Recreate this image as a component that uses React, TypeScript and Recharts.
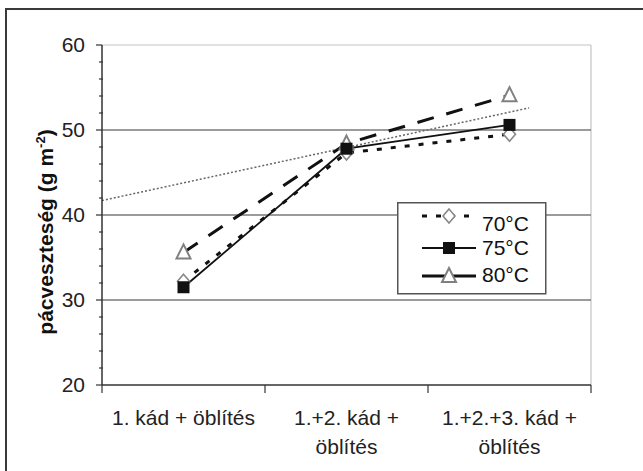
import React from 'react'
import { LineChart, Line, XAxis, YAxis, ReferenceLine, Legend } from 'recharts'

// category labels, already split into lines as on the original axis
const categories = [
  ['1. kád + öblítés'],
  ['1.+2. kád +', 'öblítés'],
  ['1.+2.+3. kád +', 'öblítés'],
]
const categoryX = [0, 1, 2]
const series70 = [32.2, 47.3, 49.5]
const series75 = [31.5, 47.8, 50.6]
const series80 = [35.6, 48.4, 54.1]
// dotted trend line, start and end
const trendX = [-0.5, 2.12]
const trendY = [41.7, 52.6]

const yTicks = [20, 22, 24, 26, 28, 30, 32, 34, 36, 38, 40, 42, 44, 46, 48, 50, 52, 54, 56, 58, 60]
const xTicks = [-0.5, 0, 0.5, 1, 1.5, 2, 2.5]
const gridValues = [30, 40, 50]

const data = categoryX.map((x, i) => ({
  x,
  t70: series70[i],
  t75: series75[i],
  t80: series80[i],
}))
const trendData = trendX.map((x, i) => ({ x, trend: trendY[i] }))

const FONT = '"Liberation Sans", Arial, sans-serif'

const Diamond = ({ cx, cy }: any) => (
  <polygon
    points={`${cx},${cy - 7} ${cx + 6},${cy} ${cx},${cy + 7} ${cx - 6},${cy}`}
    fill="#fff"
    stroke="#888"
    strokeWidth={1.6}
  />
)
const Square = ({ cx, cy }: any) => (
  <rect x={cx - 6} y={cy - 6} width={12} height={12} fill="#111" />
)
const Triangle = ({ cx, cy }: any) => (
  <polygon
    points={`${cx},${cy - 8} ${cx + 7},${cy + 6} ${cx - 7},${cy + 6}`}
    fill="#fff"
    stroke="#808080"
    strokeWidth={2}
  />
)

const YTick = (props: any) => {
  const { x, y, payload } = props
  const major = payload.value % 10 === 0
  return (
    <g>
      <line
        x1={major ? x - 6 : x - 3}
        x2={major ? x : x + 1}
        y1={y}
        y2={y}
        stroke="#333"
        strokeWidth={1.2}
      />
      {major && (
        <text x={x - 17} y={y} dy={7} textAnchor="end" fontSize={21} fill="#222" fontFamily={FONT}>
          {payload.value}
        </text>
      )}
    </g>
  )
}

const XTick = (props: any) => {
  const { x, y, payload } = props
  const v = payload.value
  if (!Number.isInteger(v)) {
    return <line x1={x} x2={x} y1={y} y2={y + 8} stroke="#333" strokeWidth={1.2} />
  }
  const lines = categories[v]
  return (
    <text x={x} y={y} textAnchor="middle" fontSize={21} fill="#222" fontFamily={FONT}>
      {lines.map((l, i) => (
        <tspan key={i} x={x} dy={i === 0 ? 40 : 29}>
          {l}
        </tspan>
      ))}
    </text>
  )
}

const YLabel = () => (
  <text
    x={53}
    y={232}
    transform="rotate(-90, 53, 232)"
    textAnchor="middle"
    fontSize={21}
    fontWeight="bold"
    fill="#111"
    fontFamily={FONT}
  >
    pácveszteség (g m
    <tspan dy={-8} fontSize={13}>
      -2
    </tspan>
    <tspan dy={8}>)</tspan>
  </text>
)

const LegendBox = () => {
  const rows = [
    { label: '70°C', y: 22, sy: 14, dash: '5 9', width: 3, Mark: Diamond },
    { label: '75°C', y: 46, sy: 46, dash: undefined, width: 1.8, Mark: Square },
    { label: '80°C', y: 73, sy: 74, dash: undefined, width: 3, Mark: Triangle },
  ]
  return (
    <svg width={150} height={93} style={{ display: 'block' }}>
      <rect x={0.75} y={0.75} width={148} height={91} fill="#fff" stroke="#555" strokeWidth={1.5} />
      {rows.map((r) => (
        <g key={r.label}>
          <line x1={25} x2={79} y1={r.sy} y2={r.sy} stroke="#111" strokeWidth={r.width} strokeDasharray={r.dash} />
          <r.Mark cx={52} cy={r.sy} />
          <text x={85} y={r.y} dy={7} fontSize={21} fill="#111" fontFamily={FONT}>
            {r.label}
          </text>
        </g>
      ))}
    </svg>
  )
}

export default function App() {
  return (
    <div style={{ position: 'absolute', left: 0, top: 0, width: 643, height: 471, background: '#fff', overflow: 'hidden' }}>
      <div
        style={{
          position: 'absolute',
          left: 5,
          top: 8,
          width: 650,
          height: 480,
          borderTop: '2.5px solid #3a3a3a',
          borderLeft: '2.5px solid #3a3a3a',
        }}
      />
      <div style={{ position: 'absolute', left: 0, top: 0 }}>
        <LineChart width={643} height={471} data={data} margin={{ top: 45, right: 52, left: 42, bottom: 16 }}>
          <XAxis
            type="number"
            dataKey="x"
            domain={[-0.5, 2.5]}
            ticks={xTicks}
            interval={0}
            allowDataOverflow
            tick={<XTick />}
            tickLine={false}
            tickSize={0}
            tickMargin={0}
            height={70}
            axisLine={{ stroke: '#333', strokeWidth: 1.5 }}
          />
          <YAxis
            domain={[20, 60]}
            ticks={yTicks}
            interval={0}
            tick={<YTick />}
            tickLine={false}
            tickSize={0}
            tickMargin={0}
            width={60}
            axisLine={{ stroke: '#333', strokeWidth: 1.5 }}
            label={<YLabel />}
          />
          <ReferenceLine y={60} stroke="#c4c4c4" strokeWidth={1.2} />
          <ReferenceLine x={2.5} stroke="#c4c4c4" strokeWidth={1.2} />
          {gridValues.map((v) => (
            <ReferenceLine key={v} y={v} stroke="#7a7a7a" strokeWidth={1.6} />
          ))}
          <Line
            data={trendData}
            dataKey="trend"
            stroke="#666"
            strokeWidth={1.5}
            strokeDasharray="2 2"
            dot={false}
            activeDot={false}
            isAnimationActive={false}
          />
          <Line
            dataKey="t70"
            stroke="#111"
            strokeWidth={3}
            strokeDasharray="5 9"
            dot={(p: any) => <Diamond key={`d${p.index}`} {...p} />}
            activeDot={false}
            isAnimationActive={false}
          />
          <Line
            dataKey="t80"
            stroke="#111"
            strokeWidth={3}
            strokeDasharray="17 13"
            dot={(p: any) => <Triangle key={`t${p.index}`} {...p} />}
            activeDot={false}
            isAnimationActive={false}
          />
          <Line
            dataKey="t75"
            stroke="#111"
            strokeWidth={1.8}
            dot={(p: any) => <Square key={`s${p.index}`} {...p} />}
            activeDot={false}
            isAnimationActive={false}
          />
          <Legend
            layout="vertical"
            align="center"
            verticalAlign="middle"
            content={<LegendBox />}
            wrapperStyle={{ left: 397, top: 202, width: 150, height: 93 }}
          />
        </LineChart>
      </div>
    </div>
  )
}
